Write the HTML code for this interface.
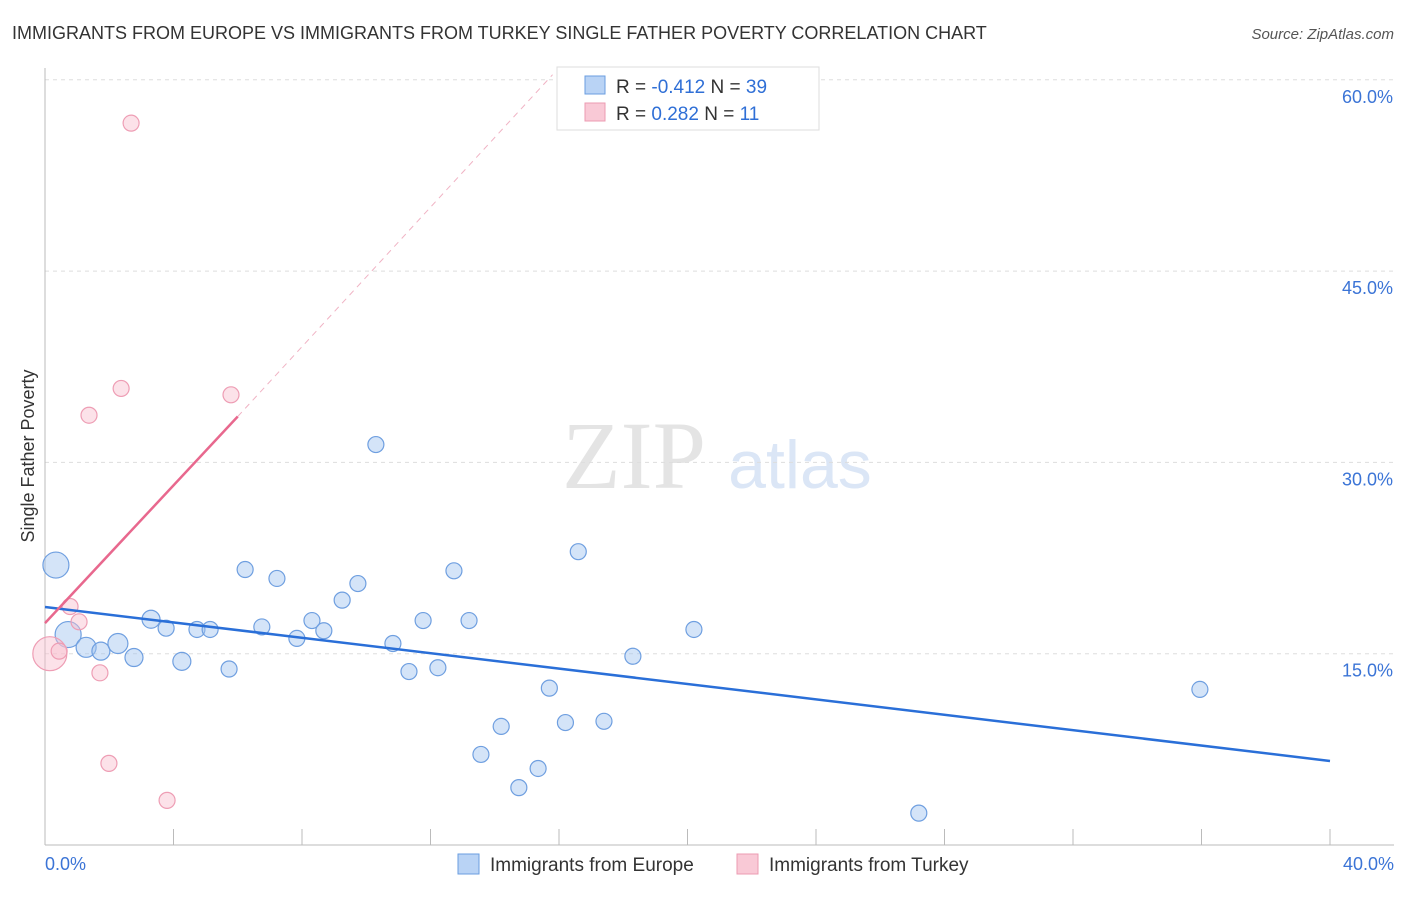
<!DOCTYPE html>
<html><head><meta charset="utf-8"><style>
body{margin:0;background:#fff;font-family:"Liberation Sans",sans-serif;}
</style></head><body>
<svg width="1406" height="892" xmlns="http://www.w3.org/2000/svg" id="svg">
<text x="12" y="39" font-size="18" fill="#333">IMMIGRANTS FROM EUROPE VS IMMIGRANTS FROM TURKEY SINGLE FATHER POVERTY CORRELATION CHART</text>
<text x="1394" y="39" font-size="15" fill="#555" font-style="italic" text-anchor="end">Source: ZipAtlas.com</text>
<text x="634" y="488" font-size="96" fill="#e4e4e4" font-family="Liberation Serif" text-anchor="middle">ZIP</text>
<text x="800" y="488" font-size="68" fill="#dbe6f6" text-anchor="middle">atlas</text>
<text x="34" y="456" font-size="18" fill="#333" text-anchor="middle" transform="rotate(-90 34 456)">Single Father Poverty</text>
<g id="grid"></g><g id="axes"></g><g id="pts"></g><g id="lines"></g>
<g>
<rect x="557" y="67" width="262" height="63" fill="#fff" stroke="#ddd"/>
<rect x="585" y="76" width="20" height="18" fill="#b9d3f5" stroke="#6a9ee0"/>
<rect x="585" y="103" width="20" height="18" fill="#f9c9d6" stroke="#ec9bb2"/>
<text x="616" y="93" font-size="19" fill="#333">R = <tspan fill="#2f6fd6">-0.412</tspan>   N = <tspan fill="#2f6fd6">39</tspan></text>
<text x="616" y="120" font-size="19" fill="#333">R =  <tspan fill="#2f6fd6">0.282</tspan>   N =  <tspan fill="#2f6fd6">11</tspan></text>
</g>
<g>
<rect x="458" y="854" width="21" height="20" fill="#b9d3f5" stroke="#6a9ee0"/>
<text x="490" y="871" font-size="19" fill="#333">Immigrants from Europe</text>
<rect x="737" y="854" width="21" height="20" fill="#f9c9d6" stroke="#ec9bb2"/>
<text x="769" y="871" font-size="19" fill="#333">Immigrants from Turkey</text>
</g>
</svg>
<script>
const yTicks=[15,30,45,60];
const yTickLabels=["15.0%","30.0%","45.0%","60.0%"];
const xTicks=[0,4,8,12,16,20,24,28,32,36,40];
const europeX=[0.34,0.72,1.28,1.74,2.27,2.77,3.3,3.77,4.26,4.73,5.14,5.73,6.23,6.75,7.22,7.84,8.31,8.68,9.25,9.74,10.3,10.83,11.33,11.77,12.23,12.73,13.2,13.57,14.2,14.75,15.35,15.7,16.2,16.6,17.4,18.3,20.2,27.2,35.95];
const europeY=[21.95,16.5,15.5,15.2,15.8,14.7,17.7,17.0,14.4,16.9,16.9,13.8,21.6,17.1,20.9,16.2,17.6,16.8,19.2,20.5,31.4,15.8,13.6,17.6,13.9,21.5,17.6,7.1,9.3,4.5,6.0,12.3,9.6,23.0,9.7,14.8,16.9,2.5,12.2];
const europeR=[13,13,10,9,10,9,9,8,9,8,8,8,8,8,8,8,8,8,8,8,8,8,8,8,8,8,8,8,8,8,8,8,8,8,8,8,8,8,8];
const turkeyX=[2.68,2.37,1.37,5.79,0.15,0.44,0.78,1.06,1.71,1.99,3.8];
const turkeyY=[56.6,35.8,33.7,35.3,15.0,15.2,18.7,17.5,13.5,6.4,3.5];
const turkeyR=[8,8,8,8,17,8,8,8,8,8,8];
const europeTrend=[[0,18.66],[40,6.59]];
const turkeyTrend=[[0,17.4],[6.0,33.6]];
const turkeyTrendExt=[[6.0,33.6],[15.8,60.4]];
const NS="http://www.w3.org/2000/svg";
const sx=v=>45+v/40*1285, sy=v=>845-v/15*191.3;
function mk(t,a,p){const e=document.createElementNS(NS,t);for(const k in a)e.setAttribute(k,a[k]);document.getElementById(p).appendChild(e);return e;}
yTicks.forEach((t,i)=>{
 const l=mk('line',{x1:45,x2:1394,y1:sy(t),y2:sy(t),stroke:'#ddd','stroke-dasharray':'4,4'},'grid');
 
 
 const tx=mk('text',{x:1393,y:sy(t)+23,'font-size':18,fill:'#3b74d6','text-anchor':'end'},'grid');
 tx.textContent=yTickLabels[i];
 
 
});
const ax=mk('line',{x1:45,x2:45,y1:68,y2:845,stroke:'#bbb'},'axes');


const bx=mk('line',{x1:45,x2:1394,y1:845,y2:845,stroke:'#bbb'},'axes');


xTicks.forEach(t=>{const l=mk('line',{x1:sx(t),x2:sx(t),y1:829,y2:845,stroke:'#bbb'},'axes');
 
 });
[[0,"0.0%","start",45],[40,"40.0%","end",1394]].forEach(d=>{const tx=mk('text',{x:d[3],y:870,'font-size':18,fill:'#3b74d6','text-anchor':d[2]},'axes');tx.textContent=d[1];
 
 });
europeX.forEach((v,i)=>{const c=mk('circle',{cx:sx(v),cy:sy(europeY[i]),r:europeR[i],fill:'rgba(160,196,240,0.45)',stroke:'#6f9fe0','stroke-width':1.2},'pts');
 
 });
turkeyX.forEach((v,i)=>{const c=mk('circle',{cx:sx(v),cy:sy(turkeyY[i]),r:turkeyR[i],fill:'rgba(248,190,206,0.45)',stroke:'#ee9db4','stroke-width':1.2},'pts');
 
 });
const l1=mk('line',{x1:sx(europeTrend[0][0]),y1:sy(europeTrend[0][1]),x2:sx(europeTrend[1][0]),y2:sy(europeTrend[1][1]),stroke:'#2a6fd8','stroke-width':2.5},'lines');


const l2=mk('line',{x1:sx(turkeyTrend[0][0]),y1:sy(turkeyTrend[0][1]),x2:sx(turkeyTrend[1][0]),y2:sy(turkeyTrend[1][1]),stroke:'#e8688e','stroke-width':2.5},'lines');


const l3=mk('line',{x1:sx(turkeyTrendExt[0][0]),y1:sy(turkeyTrendExt[0][1]),x2:sx(turkeyTrendExt[1][0]),y2:sy(turkeyTrendExt[1][1]),stroke:'#f0b3c4','stroke-width':1,'stroke-dasharray':'6,5'},'lines');


</script>
</body></html>
